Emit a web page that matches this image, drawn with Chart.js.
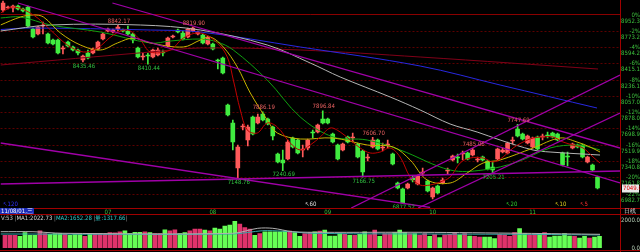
<!DOCTYPE html>
<html><head><meta charset="utf-8">
<script src="https://cdn.jsdelivr.net/npm/chart.js@4.4.0/dist/chart.umd.min.js"></script>
<style>
html,body{margin:0;padding:0;background:#000;width:640px;height:252px;overflow:hidden;}
#wrap{position:relative;width:640px;height:252px;background:#000;}
canvas{position:absolute;left:0;}
#main{top:0;width:640px;height:215px;}
#vol{top:215px;width:640px;height:35px;}
.t{position:absolute;font-family:'Liberation Sans Narrow','DejaVu Sans Condensed','Liberation Sans',sans-serif;font-size:6px;line-height:6px;white-space:nowrap;z-index:5;}
.hl{position:absolute;left:0;width:640px;height:1px;background:#a00000;z-index:4;}
.vl{position:absolute;top:0;left:620px;width:1px;height:252px;background:#a00000;z-index:4;}
</style></head><body><div id="wrap">
<canvas id="main" width="640" height="215"></canvas>
<canvas id="vol" width="640" height="35"></canvas>
<div class="hl" style="top:208px"></div>
<div class="hl" style="top:214px"></div>
<div class="hl" style="top:250px"></div>
<div class="vl"></div>
<div class="t" style="left:0;top:208px;height:6px;background:#1c2cb8;color:#fff;padding:0 1px;">11/08/01,三</div>
<div class="t" style="left:624px;top:208px;color:#d8d8d8;">日线</div>
<div class="t" style="left:1px;top:215px;"><span style="color:#c8c8c8">V:53 </span><span style="color:#909090">|</span><span style="color:#d8d8d8">MA1:2022.73 </span><span style="color:#909090">|</span><span style="color:#30c8c8">MA2:1652.28 </span><span style="color:#909090">|</span><span style="color:#30c8c8">量:1317.66</span><span style="color:#909090">|</span></div>
<div class="t" style="left:3px;top:201px;color:#3030ff;">↖120</div>
<div class="t" style="left:305px;top:201px;color:#e0e0e0;">↖60</div>
<div class="t" style="left:506px;top:201px;color:#30d030;">↖20</div>
<div class="t" style="left:555px;top:201px;color:#e0d020;">↖10</div>
<div class="t" style="left:580px;top:201px;color:#ff3030;">↖5</div>
</div>
<script>
// ---------------- data ----------------
const N_SLOTS = 124;
const opens  = [9007,9029,9029,9051,9018,9040,8798,8743,8831,8743,8677,8677,8578,8655,8600,8567,8457,8534,8534,8578,8688,8776,8765,8798,8787,8776,8743,8589,8490,8512,8490,8512,8545,8611,8710,8787,8754,8710,8776,8743,8732,8633,8633,8457,8479,7962,7764,7269,7720,7577,7830,7764,7863,7808,7720,7423,7357,7368,7599,7577,7467,7489,7665,7665,7808,7808,7643,7522,7467,7610,7599,7533,7456,7379,7500,7577,7489,7522,7423,7104,7038,7049,7159,7093,7214,7126,6950,7071,7104,7236,7357,7390,7423,7434,7412,7357,7390,7346,7280,7368,7445,7434,7566,7698,7643,7544,7500,7610,7610,7632,7654,7643,7434,7401,7489,7522,7522,7335,7302,7170];
const highs  = [9106,9051,9062,9062,9029,9051,8809,8831,8875,8754,8688,8688,8611,8666,8611,8578,8512,8567,8589,8666,8754,8809,8798,8842,8798,8831,8754,8600,8534,8534,8578,8589,8567,8710,8732,8798,8776,8809,8820,8776,8743,8721,8644,8468,8490,7973,7797,7522,7753,7742,7841,7863,7886,7819,7731,7434,7467,7577,7610,7588,7522,7588,7687,7753,7897,7819,7654,7533,7544,7621,7654,7544,7467,7423,7607,7588,7544,7577,7434,7115,7049,7104,7181,7192,7269,7137,7060,7082,7159,7269,7412,7423,7456,7445,7485,7390,7401,7357,7335,7489,7489,7555,7610,7748,7654,7632,7610,7621,7643,7665,7665,7654,7445,7445,7544,7533,7533,7401,7313,7181];
const lows   = [8985,9018,8985,9007,8985,8820,8699,8732,8743,8633,8622,8523,8523,8600,8556,8512,8435,8468,8523,8567,8677,8765,8754,8776,8765,8732,8644,8479,8457,8410,8479,8501,8501,8600,8699,8754,8677,8699,8765,8732,8633,8622,8567,8358,8303,7841,7467,7149,7687,7511,7632,7753,7786,7742,7577,7324,7241,7357,7489,7423,7390,7467,7599,7654,7753,7753,7544,7357,7456,7544,7555,7379,7167,7346,7489,7467,7456,7489,7302,7038,6878,7038,7115,7082,7181,7005,6928,6983,7093,7203,7346,7324,7357,7357,7401,7335,7346,7247,7205,7357,7434,7423,7533,7610,7577,7533,7489,7467,7577,7599,7599,7566,7291,7291,7478,7489,7379,7324,7236,7038];
const closes = [9084,9040,9051,9018,8996,8831,8710,8820,8842,8644,8633,8534,8589,8611,8567,8534,8501,8479,8578,8655,8743,8798,8787,8820,8776,8743,8677,8490,8501,8501,8567,8567,8534,8699,8721,8765,8688,8798,8809,8765,8644,8710,8578,8446,8314,7852,7555,7500,7731,7720,7643,7830,7797,7753,7621,7335,7324,7555,7500,7434,7478,7577,7654,7742,7764,7764,7555,7368,7533,7555,7610,7390,7225,7390,7577,7478,7500,7533,7313,7049,6884,7093,7137,7181,7225,7016,7049,6994,7137,7247,7401,7379,7434,7368,7467,7368,7357,7258,7247,7478,7467,7544,7577,7621,7588,7621,7599,7478,7621,7621,7610,7577,7302,7390,7533,7500,7390,7390,7247,7049];
const volumes = [909,909,909,836,1103,909,909,1224,1030,981,1030,1030,981,909,957,957,836,1030,1030,1030,1030,1103,1078,1151,1224,1030,1127,1127,1151,1103,1030,1030,1296,1224,1296,1030,1103,1224,1345,1345,1272,1224,1418,1345,1563,1636,1902,1708,1466,1345,909,1030,1151,1151,1151,1151,1200,1200,1103,836,1030,1103,1151,1200,1272,860,860,1030,981,909,909,981,1151,957,1272,836,1030,1030,1103,1272,1103,1030,1030,909,1030,836,957,739,933,981,1103,933,1030,860,836,788,788,788,666,981,933,836,1103,1393,1030,957,981,1030,1103,788,860,860,1030,860,836,715,836,715,788,836];

// moving averages: [candle index, value]
const ma5Pts = [[-0.5,8974],[2.1,9040],[6.1,8952],[9.5,8787],[12.9,8622],[16.1,8545],[18.9,8589],[22.1,8732],[24.9,8787],[27.5,8677],[29.5,8545],[33.5,8567],[36.1,8699],[39.5,8754],[42.9,8644],[44.9,8490],[46.1,8237],[47.5,7907],[48.9,7687],[50.9,7654],[52.9,7764],[54.9,7720],[57.5,7544],[59.5,7467],[61.5,7522],[63.5,7610],[65.5,7709],[67.5,7665],[69.5,7577],[71.5,7489],[73.5,7434],[75.5,7445],[77.5,7489],[79.5,7390],[81.5,7170],[83.5,7082],[85.5,7082],[87.5,7115],[89.5,7170],[91.5,7324],[93.5,7379],[96.1,7379],[98.1,7335],[100.1,7390],[102.1,7489],[104.1,7555],[106.1,7599],[108.1,7610],[110.1,7610],[112.1,7555],[114.1,7522],[116.1,7489],[118.1,7390],[119.5,7324]];
const ma10Pts = [[-0.5,8842],[3.5,8930],[6.1,8952],[8.1,8930],[11.5,8754],[15.5,8622],[19.5,8567],[22.9,8644],[26.1,8699],[29.5,8644],[36.1,8600],[39.5,8677],[41.5,8710],[44.1,8600],[46.9,8380],[49.5,8094],[52.9,7797],[54.9,7654],[59.5,7588],[66.1,7599],[72.9,7522],[78.1,7500],[81.5,7357],[84.9,7137],[89.5,7104],[92.9,7214],[96.1,7324],[99.5,7357],[106.1,7489],[111.5,7599],[114.9,7555],[117.5,7500],[119.5,7445]];
const ma20Pts = [[-0.5,8919],[3.5,8930],[9.5,8842],[19.5,8765],[29.5,8644],[33.5,8666],[39.5,8688],[42.9,8655],[46.1,8567],[52.9,8237],[59.5,7830],[66.1,7610],[72.9,7577],[79.5,7467],[89.5,7247],[96.1,7247],[102.9,7335],[109.5,7489],[114.9,7522],[118.1,7489],[119.5,7467]];
const ma60Pts = [[-0.5,8776],[9.5,8842],[27.5,8842],[39.5,8787],[52.9,8622],[61.5,8424],[67.5,8270],[77.5,8050],[83.5,7907],[89.5,7753],[94.9,7665],[99.5,7577],[106.1,7467],[109.5,7445],[119.5,7412]];
const ma120Pts = [[-0.5,8792],[5.5,8809],[29.5,8787],[39.5,8765],[59.5,8600],[83.5,8391],[99.5,8182],[118.9,7929]];
const ma250Pts = [[-0.5,8402],[29.5,8545],[39.5,8589],[59.5,8567],[83.5,8490],[119.1,8358]];
// trend lines: [start index, value], [end index, value]
const trendLines = [
  [[3,9084],[123.5,7104]],
  [[21.9,9084],[123.5,7489]],
  [[-0.5,7544],[85.5,6835]],
  [[-0.5,7093],[123.5,7236]],
  [[69.7,6829],[123.5,8292]],
  [[83.1,6829],[123.5,7874]]
];
const volMa1Pts = [[-0.5,1164],[6,1164],[12,1050],[46,1050],[51,1407],[54,1407],[58,1164],[64,1121],[84,1121],[104,1050],[119.5,978]];
const volMa2Pts = [[-0.5,1000],[46,1000],[52,1235],[56,1200],[62,1050],[84,1000],[104,978],[119.5,928]];

const priceTicks = [8952.3,8773.2,8594.2,8415.1,8236.1,8057.0,7878.0,7698.9,7519.9,7340.8,7161.8,6982.7];
const pctLabels = ['0%','-2%','-4%','-6%','-8%','-10%','-12%','-14%','-16%','-18%','-20%','-22%'];
const monthIdx = [21,42,65,86,106];
const monthText = ['07','08','09','10','11'];
const extremeMarks = [
  {i:23,text:'8842.17',kind:'h'},{i:16,text:'8435.46',kind:'l'},{i:29,text:'8410.44',kind:'l'},
  {i:38,text:'8819.90',kind:'h'},{i:52,text:'7886.19',kind:'h'},{i:47,text:'7148.76',kind:'l'},
  {i:56,text:'7240.69',kind:'l'},{i:64,text:'7896.84',kind:'h'},{i:74,text:'7606.70',kind:'h'},
  {i:72,text:'7166.75',kind:'l'},{i:80,text:'6877.52',kind:'l'},{i:94,text:'7485.06',kind:'h'},
  {i:98,text:'7205.21',kind:'l'},{i:103,text:'7747.69',kind:'h'}
];
const volTicks = [0,2000];
const Y_MIN = 6829, Y_MAX = 9117, VOL_MAX = 2357;

// ---------------- drawing ----------------
const F = "'Liberation Sans Narrow','DejaVu Sans Condensed','Liberation Sans',sans-serif";
const UP = '#ff5a5a', DN = '#40ec40', VUP = '#e0336b', VDN = '#66ff55';
const isUp = opens.map((o,i)=>closes[i]>=o);
const slotLabels = Array.from({length:N_SLOTS},(_,i)=>i);
const pts = a => a.map(p=>({x:p[0],y:p[1]}));
const lineDs = (data,color,order,w) => ({type:'line',data:pts(data),xAxisID:'xl',yAxisID:'y',borderColor:color,borderWidth:w||1,pointRadius:0,tension:0.35,fill:false,order:order});
const xlScale = {type:'linear',display:false,offset:false,bounds:'data',min:-0.5,max:N_SLOTS-0.5,grid:{offset:false}};

const markPlugin = {
  id:'marks',
  afterDatasetsDraw(chart){
    if(chart.canvas.id!=='main') return;
    const {ctx} = chart; const x = chart.scales.x, y = chart.scales.y;
    ctx.save();
    ctx.font = '6px ' + F; ctx.textAlign = 'center';
    extremeMarks.forEach(m=>{
      const px = x.getPixelForValue(m.i) + 1;
      if(m.kind==='h'){ ctx.fillStyle='#e86060'; ctx.textBaseline='bottom'; ctx.fillText(m.text,px,y.getPixelForValue(highs[m.i])-1); }
      else { ctx.fillStyle='#30c040'; ctx.textBaseline='top'; ctx.fillText(m.text,px,y.getPixelForValue(lows[m.i])+1); }
    });
    const lp = closes[closes.length-1]; const py = y.getPixelForValue(lp);
    const r = chart.chartArea.right;
    ctx.fillStyle='#e8e8e8'; ctx.fillRect(r+2,py-3.5,17,8);
    ctx.fillStyle='#e00000'; ctx.textAlign='left'; ctx.textBaseline='middle';
    ctx.fillText(lp.toFixed(1), r+3, py+0.5);
    ctx.restore();
  }
};

const mainDatasets = [
  ...trendLines.map(t=>({type:'line',data:pts(t),xAxisID:'xl',yAxisID:'y',borderColor:'#a000a8',borderWidth:1.3,pointRadius:0,tension:0,order:1})),
  lineDs(ma5Pts,'#c00000',2),
  lineDs(ma10Pts,'#c8b400',3),
  lineDs(ma20Pts,'#10a010',4),
  lineDs(ma60Pts,'#b4b4b4',5),
  lineDs(ma120Pts,'#2828e0',6),
  lineDs(ma250Pts,'#800018',7),
  {type:'bar',data:opens.map((o,i)=>[o,closes[i]]),backgroundColor:isUp.map(u=>u?UP:DN),barThickness:4,minBarLength:1,grouped:false,borderWidth:0,order:10},
  {type:'bar',data:lows.map((l,i)=>[l,highs[i]]),backgroundColor:isUp.map(u=>u?UP:DN),barThickness:1,minBarLength:1,grouped:false,borderWidth:0,order:11}
];

new Chart(document.getElementById('main'),{
  type:'bar',
  data:{labels:slotLabels,datasets:mainDatasets},
  options:{
    responsive:false,animation:false,events:[],
    layout:{padding:{left:0.5,right:0,top:0,bottom:0}},
    plugins:{legend:{display:false},tooltip:{enabled:false}},
    scales:{
      x:{type:'category',offset:true,grid:{display:false,drawTicks:false},border:{display:false},
         ticks:{autoSkip:false,maxRotation:0,minRotation:0,padding:1,color:'#3cc03c',font:{size:6,family:F},
           callback:(v,i)=>{const k=monthIdx.indexOf(i);return k>=0?monthText[k]:'';}},
         afterFit:s=>{s.height=7;s.paddingLeft=0;s.paddingRight=0;}},
      xl:xlScale,
      y:{position:'right',min:Y_MIN,max:Y_MAX,
         afterBuildTicks:s=>{s.ticks=priceTicks.map(v=>({value:v}));},
         grid:{drawTicks:false,lineWidth:1,color:c=>(c.tick&&c.tick.value===priceTicks[0])?'#8a0000':'#5c0000'},
         border:{display:false,dash:c=>(c.tick&&c.tick.value===priceTicks[0])?[]:[2,2]},
         ticks:{color:'#3cc03c',font:{size:6,family:F,lineHeight:1},padding:1,crossAlign:'far',labelOffset:3,
           callback:(v)=>{const k=priceTicks.indexOf(v);return k>=0?[pctLabels[k],priceTicks[k].toFixed(1)]:'';}},
         afterFit:s=>{s.width=20;s.paddingTop=0;s.paddingBottom=0;}}
    }
  },
  plugins:[markPlugin]
});

new Chart(document.getElementById('vol'),{
  type:'bar',
  data:{labels:slotLabels,datasets:[
    {type:'line',data:pts(volMa1Pts),xAxisID:'xl',borderColor:'#b0b0b0',borderWidth:1,pointRadius:0,tension:0.3,order:1},
    {type:'line',data:pts(volMa2Pts),xAxisID:'xl',borderColor:'#30a8a8',borderWidth:1,pointRadius:0,tension:0.3,order:2},
    {type:'bar',data:volumes,backgroundColor:isUp.map(u=>u?VUP:VDN),barThickness:4,borderWidth:0,order:10}
  ]},
  options:{
    responsive:false,animation:false,events:[],
    layout:{padding:{left:0.5,right:0,top:0,bottom:2}},
    plugins:{legend:{display:false},tooltip:{enabled:false}},
    scales:{
      x:{type:'category',offset:true,display:false},
      xl:xlScale,
      y:{position:'right',min:0,max:VOL_MAX,
         afterBuildTicks:s=>{s.ticks=volTicks.map(v=>({value:v}));},
         grid:{display:false,drawTicks:false},border:{display:false},
         ticks:{color:'#b8d0b8',font:{size:6,family:F,lineHeight:1},padding:1,crossAlign:'far',labelOffset:0,callback:v=>Number(v).toFixed(1)},
         afterFit:s=>{s.width=20;s.paddingTop=0;s.paddingBottom=0;}}
    }
  }
});
</script>
</body></html>
